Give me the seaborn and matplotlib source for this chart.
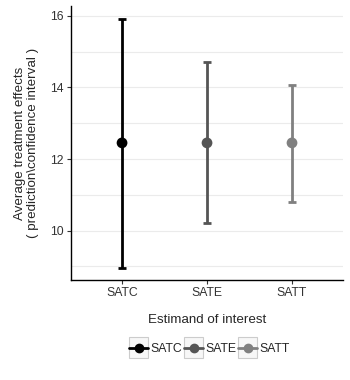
import matplotlib
matplotlib.use("Agg")
import matplotlib.pyplot as plt
from matplotlib.lines import Line2D
from matplotlib.patches import Rectangle
from matplotlib.legend_handler import HandlerLine2D
from matplotlib.ticker import MultipleLocator
import pandas as pd
import seaborn as sns

estimands = ["SATC", "SATE", "SATT"]
estimates = [12.45, 12.45, 12.45]
lower = [8.97, 10.20, 10.80]
upper = [15.92, 14.70, 14.06]
colors = ["#000000", "#555555", "#808080"]

df = pd.DataFrame({"estimand": estimands, "est": estimates,
                   "lo": lower, "hi": upper})

sns.set_style("white")
plt.rcParams["font.family"] = ["Liberation Sans", "DejaVu Sans"]

fig = plt.figure(figsize=(3.5, 3.8), dpi=100)
ax = fig.add_axes([0.203, 0.263, 0.777, 0.721])

for i, row in df.iterrows():
    ax.errorbar(i, row.est, yerr=[[row.est - row.lo], [row.hi - row.est]],
                fmt="none", ecolor=colors[i], elinewidth=2, capsize=3.2,
                capthick=2, zorder=2)
sns.scatterplot(data=df, x=range(len(df)), y="est", hue="estimand",
                palette=colors, s=60, edgecolor="none", legend=False,
                ax=ax, zorder=3)

ax.set_xlim(-0.6, 2.6)
ax.set_ylim(8.62, 16.27)
ax.set_xticks(range(len(estimands)))
ax.set_xticklabels(estimands)
ax.set_yticks([10, 12, 14, 16])
ax.yaxis.set_minor_locator(MultipleLocator(1))
ax.grid(True, which="both", axis="y", color="#ebebeb", linewidth=0.8)
ax.set_axisbelow(True)
for s in ["top", "right"]:
    ax.spines[s].set_visible(False)
for s in ["left", "bottom"]:
    ax.spines[s].set_color("black")
    ax.spines[s].set_linewidth(1.0)
ax.tick_params(axis="both", which="major", length=3, width=0.8, pad=2,
               color="#333333", labelsize=8.8, labelcolor="#333333",
               left=True, bottom=True)
ax.tick_params(axis="y", which="minor", length=0)
ax.set_xlabel("Estimand of interest", fontsize=9.6, labelpad=11)
ax.set_ylabel("Average treatment effects\n( prediction\\confidence interval )",
              fontsize=9.6, labelpad=8)


class BoxedHandler(HandlerLine2D):
    def create_artists(self, legend, orig_handle, xdescent, ydescent,
                       width, height, fontsize, trans):
        arts = super().create_artists(legend, orig_handle, xdescent, ydescent,
                                      width, height, fontsize, trans)
        box = Rectangle((-xdescent, -ydescent - 4.5), width, height + 9,
                        facecolor="#f7f7f7", edgecolor="#cccccc", lw=0.8,
                        transform=trans, zorder=0)
        return [box] + arts


handles = [Line2D([], [], color=c, lw=2, marker="o", markersize=6)
           for c in colors]
fig.legend(handles, estimands, loc="center", bbox_to_anchor=(0.599, 0.081),
           ncol=3, frameon=False, fontsize=8.8, handlelength=1.55,
           handletextpad=0.2, columnspacing=0.15,
           handler_map={Line2D: BoxedHandler()})

fig.savefig("out.png", dpi=100)
